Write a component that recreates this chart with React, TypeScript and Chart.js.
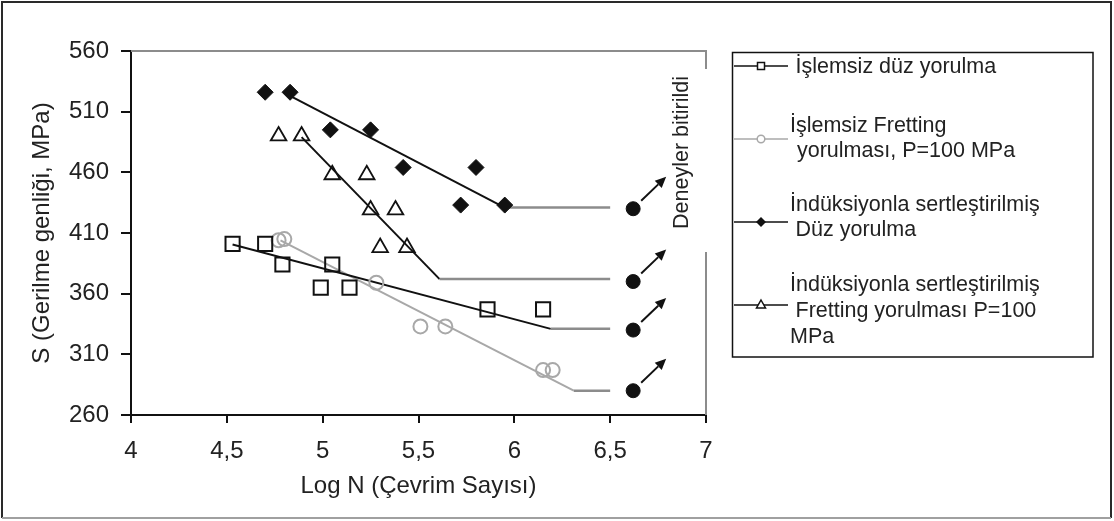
import React, { useEffect, useRef } from "react";
import { Chart, registerables } from "chart.js";

Chart.register(...registerables);

// ---- axes ----
const xTickValues = [4, 4.5, 5, 5.5, 6, 6.5, 7];
const yTickValues = [260, 310, 360, 410, 460, 510, 560];
const xTitle = "Log N (Çevrim Sayısı)";
const yTitle = "S (Gerilme genliği, MPa)";

// ---- İşlemsiz düz yorulma (open squares) ----
const plainLogN = [4.53, 4.7, 4.79, 5.05, 4.99, 5.14, 5.86, 6.15];
const plainS = [401, 401, 384, 384, 365, 365, 347, 347];
const plainFitLogN = [4.53, 6.19, 6.5];
const plainFitS = [400.5, 331, 331];

// ---- İşlemsiz Fretting yorulması (open grey circles) ----
const frettingLogN = [4.77, 4.8, 5.28, 5.51, 5.64, 6.15, 6.2];
const frettingS = [404, 405, 369, 333, 333, 297, 297];
const frettingFitLogN = [4.78, 6.31, 6.5];
const frettingFitS = [404, 280, 280];

// ---- İndüksiyonla sertleştirilmiş düz yorulma (filled diamonds) ----
const indPlainLogN = [4.7, 4.83, 5.04, 5.25, 5.42, 5.8, 5.72, 5.95];
const indPlainS = [526, 526, 495, 495, 464, 464, 433, 433];
const indPlainFitLogN = [4.83, 5.95, 6.5];
const indPlainFitS = [523, 431, 431];

// ---- İndüksiyonla sertleştirilmiş fretting (open triangles) ----
const indFretLogN = [4.77, 4.89, 5.05, 5.23, 5.25, 5.38, 5.3, 5.44];
const indFretS = [490, 490, 458, 458, 429, 429, 398, 398];
const indFretFitLogN = [4.89, 5.61, 6.5];
const indFretFitS = [489, 372, 372];

// ---- run-outs (tests stopped) ----
const runoutLogN = [6.62, 6.62, 6.62, 6.62];
const runoutS = [430, 370, 330, 280];
const runoutNote = "Deneyler bitirildi";

// ---- legend ----
const legendLabels = [
  ["İşlemsiz düz yorulma"],
  ["İşlemsiz Fretting", "yorulması, P=100 MPa"],
  ["İndüksiyonla sertleştirilmiş", "Düz yorulma"],
  ["İndüksiyonla sertleştirilmiş", "Fretting yorulması P=100", "MPa"],
];

const FONT = '"Liberation Sans", Arial, Helvetica, sans-serif';
const BLACK = "#111111";
const TEXT = "#222222";
const FLAT_GREY = "#8c8c8c";
const LIGHT_GREY = "#a8a8a8";

const pts = (xs: number[], ys: number[]) => xs.map((x, i) => ({ x, y: ys[i] }));

function drawMarker(ctx: CanvasRenderingContext2D, kind: string, x: number, y: number) {
  ctx.save();
  ctx.lineWidth = 1.5;
  if (kind === "square") {
    ctx.fillStyle = "#fff";
    ctx.strokeStyle = BLACK;
    ctx.fillRect(x - 3.5, y - 3.5, 7, 7);
    ctx.strokeRect(x - 3.5, y - 3.5, 7, 7);
  } else if (kind === "circle") {
    ctx.fillStyle = "#fff";
    ctx.strokeStyle = LIGHT_GREY;
    ctx.beginPath();
    ctx.arc(x, y, 3.8, 0, Math.PI * 2);
    ctx.fill();
    ctx.stroke();
  } else if (kind === "diamond") {
    ctx.fillStyle = BLACK;
    ctx.beginPath();
    ctx.moveTo(x, y - 5);
    ctx.lineTo(x + 5, y);
    ctx.lineTo(x, y + 5);
    ctx.lineTo(x - 5, y);
    ctx.closePath();
    ctx.fill();
  } else if (kind === "triangle") {
    ctx.fillStyle = "#fff";
    ctx.strokeStyle = BLACK;
    ctx.beginPath();
    ctx.moveTo(x, y - 5);
    ctx.lineTo(x + 4.5, y + 3);
    ctx.lineTo(x - 4.5, y + 3);
    ctx.closePath();
    ctx.fill();
    ctx.stroke();
  }
  ctx.restore();
}

const decorPlugin = {
  id: "decor",
  afterDraw(chart: any) {
    const { ctx, chartArea: a, scales } = chart;
    const xs = scales.x;
    const ys = scales.y;
    ctx.save();

    // grey plot frame (top + right, broken by the note)
    ctx.strokeStyle = FLAT_GREY;
    ctx.lineWidth = 2;
    ctx.beginPath();
    ctx.moveTo(a.left, a.top);
    ctx.lineTo(a.right, a.top);
    ctx.lineTo(a.right, a.top + 18);
    ctx.moveTo(a.right, a.top + 201);
    ctx.lineTo(a.right, a.bottom);
    ctx.stroke();

    // note text
    ctx.save();
    ctx.translate(a.right - 18.5, a.top + 101.5);
    ctx.rotate(-Math.PI / 2);
    ctx.font = `21.5px ${FONT}`;
    ctx.fillStyle = TEXT;
    ctx.textAlign = "center";
    ctx.textBaseline = "alphabetic";
    ctx.fillText(runoutNote, 0, 0);
    ctx.restore();

    // arrows from run-out points
    ctx.strokeStyle = BLACK;
    ctx.fillStyle = BLACK;
    ctx.lineWidth = 2;
    for (let i = 0; i < runoutS.length; i++) {
      const px = xs.getPixelForValue(runoutLogN[i]);
      const py = ys.getPixelForValue(runoutS[i]);
      const sx = px + 8, sy = py - 8;
      const tx = px + 33, ty = py - 32;
      const dx = tx - sx, dy = ty - sy;
      const len = Math.hypot(dx, dy);
      const ux = dx / len, uy = dy / len;
      const bx = tx - ux * 11, by = ty - uy * 11;
      ctx.beginPath();
      ctx.moveTo(sx, sy);
      ctx.lineTo(bx, by);
      ctx.stroke();
      ctx.beginPath();
      ctx.moveTo(tx, ty);
      ctx.lineTo(bx - uy * 5, by + ux * 5);
      ctx.lineTo(bx + uy * 5, by - ux * 5);
      ctx.closePath();
      ctx.fill();
    }

    // legend box
    ctx.strokeStyle = BLACK;
    ctx.lineWidth = 1.5;
    ctx.strokeRect(732.5, 52.5, 360.5, 304.5);

    const sampleY = [66, 139, 222, 305];
    const sampleColor = [BLACK, LIGHT_GREY, BLACK, BLACK];
    const sampleKind = ["square", "circle", "diamond", "triangle"];
    const baselines = [[73], [132, 157], [211, 236], [291, 317, 343]];
    const textX = [[795.5], [790, 797], [790, 795.5], [790, 795.5, 790]];
    for (let i = 0; i < legendLabels.length; i++) {
      ctx.strokeStyle = sampleColor[i];
      ctx.lineWidth = 1.5;
      ctx.beginPath();
      ctx.moveTo(734, sampleY[i]);
      ctx.lineTo(788, sampleY[i]);
      ctx.stroke();
      drawMarker(ctx, sampleKind[i], 761, sampleY[i]);
      ctx.font = `21.5px ${FONT}`;
      ctx.fillStyle = TEXT;
      ctx.textAlign = "left";
      ctx.textBaseline = "alphabetic";
      legendLabels[i].forEach((line, j) => ctx.fillText(line, textX[i][j], baselines[i][j]));
    }

    // outer frame
    ctx.lineWidth = 2;
    ctx.strokeStyle = "#2a2a2a";
    ctx.beginPath();
    ctx.moveTo(2, 518);
    ctx.lineTo(2, 2);
    ctx.lineTo(1111, 2);
    ctx.lineTo(1111, 518);
    ctx.stroke();
    ctx.strokeStyle = "#a0a0a0";
    ctx.beginPath();
    ctx.moveTo(2, 518);
    ctx.lineTo(1111, 518);
    ctx.stroke();

    ctx.restore();
  },
};

const fitLine = (xsArr: number[], ysArr: number[], color: string) => ({
  type: "scatter" as const,
  data: pts(xsArr, ysArr),
  showLine: true,
  pointRadius: 0,
  borderColor: color,
  borderWidth: 2,
  order: 2,
  segment: {
    borderColor: (c: any) => (c.p0DataIndex >= 1 ? FLAT_GREY : color),
    borderWidth: (c: any) => (c.p0DataIndex >= 1 ? 2.5 : 2),
  },
});

export default function App() {
  const ref = useRef<HTMLCanvasElement>(null);
  useEffect(() => {
    if (!ref.current) return;
    const tickFont = { family: FONT, size: 24 };
    const chart = new Chart(ref.current, {
      type: "scatter",
      data: {
        datasets: [
          fitLine(plainFitLogN, plainFitS, BLACK),
          fitLine(frettingFitLogN, frettingFitS, LIGHT_GREY),
          fitLine(indPlainFitLogN, indPlainFitS, BLACK),
          fitLine(indFretFitLogN, indFretFitS, BLACK),
          {
            data: pts(plainLogN, plainS),
            pointStyle: "rect",
            pointRadius: 10,
            borderColor: BLACK,
            borderWidth: 2,
            backgroundColor: "rgba(255,255,255,0)",
            order: 0,
          },
          {
            data: pts(frettingLogN, frettingS),
            pointStyle: "circle",
            pointRadius: 7,
            borderColor: LIGHT_GREY,
            borderWidth: 2,
            backgroundColor: "rgba(255,255,255,0)",
            order: 0,
          },
          {
            data: pts(indPlainLogN, indPlainS),
            pointStyle: "rectRot",
            pointRadius: 8,
            borderColor: BLACK,
            borderWidth: 1,
            backgroundColor: BLACK,
            order: 0,
          },
          {
            data: pts(indFretLogN, indFretS),
            pointStyle: "triangle",
            pointRadius: 9,
            borderColor: BLACK,
            borderWidth: 1.8,
            backgroundColor: "rgba(255,255,255,0)",
            order: 0,
          },
          {
            data: pts(runoutLogN, runoutS),
            pointStyle: "circle",
            pointRadius: 7,
            borderColor: BLACK,
            borderWidth: 1,
            backgroundColor: BLACK,
            order: 0,
          },
        ] as any,
      },
      options: {
        responsive: false,
        animation: false,
        devicePixelRatio: 1,
        events: [],
        layout: { padding: { left: 0, top: 51, right: 408, bottom: 0 } },
        plugins: { legend: { display: false }, tooltip: { enabled: false } },
        scales: {
          x: {
            type: "linear",
            min: 4,
            max: 7,
            afterBuildTicks: (s: any) => {
              s.ticks = xTickValues.map((v) => ({ value: v }));
            },
            afterFit: (s: any) => {
              s.height = 106;
            },
            ticks: {
              callback: (v: any) => String(v).replace(".", ","),
              font: tickFont,
              color: TEXT,
              padding: 14,
              autoSkip: false,
              maxRotation: 0,
            },
            grid: { drawOnChartArea: false, drawTicks: true, tickLength: 8, color: BLACK, lineWidth: 2 },
            border: { display: true, color: BLACK, width: 2 },
            title: { display: true, text: xTitle, font: tickFont, color: TEXT, padding: { top: 0, bottom: 20 } },
          },
          y: {
            type: "linear",
            min: 260,
            max: 560,
            afterBuildTicks: (s: any) => {
              s.ticks = yTickValues.map((v) => ({ value: v }));
            },
            afterFit: (s: any) => {
              s.width = 131;
            },
            ticks: { font: tickFont, color: TEXT, padding: 12, autoSkip: false },
            grid: { drawOnChartArea: false, drawTicks: true, tickLength: 10, color: BLACK, lineWidth: 2 },
            border: { display: true, color: BLACK, width: 2 },
            title: { display: true, text: yTitle, font: tickFont, color: TEXT, padding: { top: 28, bottom: 0 } },
          },
        },
      } as any,
      plugins: [decorPlugin],
    });
    return () => chart.destroy();
  }, []);
  return (
    <div style={{ position: "fixed", left: 0, top: 0, width: 1114, height: 521, background: "#fff" }}>
      <canvas ref={ref} width={1114} height={521} style={{ display: "block" }} />
    </div>
  );
}
